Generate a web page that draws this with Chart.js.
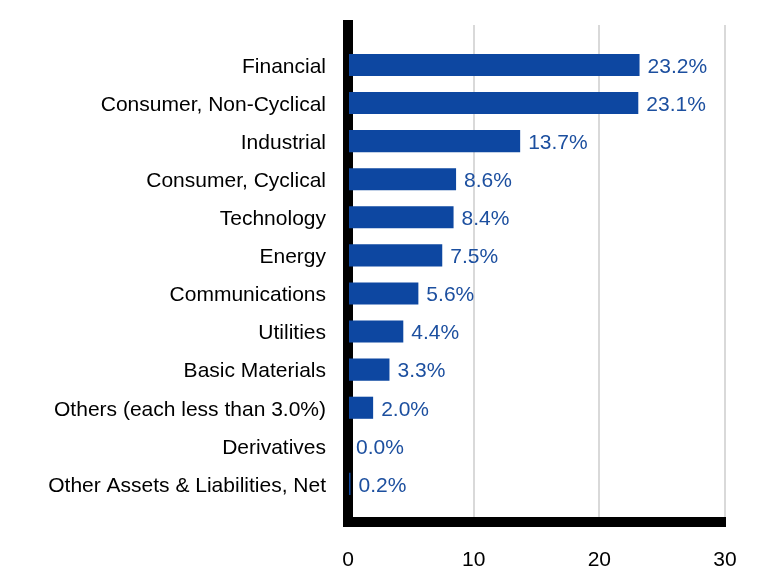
<!DOCTYPE html>
<html>
<head>
<meta charset="utf-8">
<script src="https://cdn.jsdelivr.net/npm/chart.js@4"></script>
<style>
  body { margin: 0; background: #fff; }
  #wrap { width: 780px; height: 588px; }
</style>
</head>
<body>
<div id="wrap"><canvas id="myChart"></canvas></div>
<script>
const categories = [
  'Financial',
  'Consumer, Non-Cyclical',
  'Industrial',
  'Consumer, Cyclical',
  'Technology',
  'Energy',
  'Communications',
  'Utilities',
  'Basic Materials',
  'Others (each less than 3.0%)',
  'Derivatives',
  'Other Assets & Liabilities, Net'
];
const weights = [23.2, 23.1, 13.7, 8.6, 8.4, 7.5, 5.6, 4.4, 3.3, 2.0, 0.0, 0.2];
const xTicks = [0, 10, 20, 30];

const barColor = '#0d47a1';
const labelColor = '#1c4f9f';
const font = { family: 'Liberation Sans, Arial, sans-serif', size: 21 };

// value labels to the right of each bar
const valueLabels = {
  id: 'valueLabels',
  afterDatasetsDraw(chart) {
    const ctx = chart.ctx;
    const meta = chart.getDatasetMeta(0);
    ctx.save();
    ctx.font = `${font.size}px ${font.family}`;
    ctx.fillStyle = labelColor;
    ctx.textAlign = 'left';
    ctx.textBaseline = 'middle';
    meta.data.forEach((bar, i) => {
      ctx.fillText(weights[i].toFixed(1) + '%', bar.x + 8, bar.y + 2);
    });
    ctx.restore();
  }
};

// fill the corner where the two thick axis lines meet
const axisCorner = {
  id: 'axisCorner',
  afterDraw(chart) {
    const { left, bottom } = chart.chartArea;
    const ctx = chart.ctx;
    ctx.save();
    ctx.fillStyle = '#000';
    ctx.fillRect(left - 5, bottom - 5, 10, 10);
    ctx.restore();
  }
};

new Chart(document.getElementById('myChart'), {
  type: 'bar',
  data: {
    datasets: [{
      data: weights.map((v, i) => ({ x: v, y: i })),
      backgroundColor: barColor,
      barPercentage: 0.58,
      categoryPercentage: 1
    }]
  },
  options: {
    indexAxis: 'y',
    responsive: true,
    maintainAspectRatio: false,
    animation: false,
    layout: { padding: { top: 25, right: 55, left: 0, bottom: 0 } },
    plugins: {
      legend: { display: false },
      tooltip: { enabled: false }
    },
    scales: {
      x: {
        type: 'linear',
        min: 0,
        max: 30,
        afterBuildTicks: scale => { scale.ticks = xTicks.map(v => ({ value: v })); },
        afterFit: scale => { scale.height = 66; },
        grid: { color: '#d9d9d9', lineWidth: 2, drawTicks: false },
        border: { display: true, color: '#000', width: 10 },
        ticks: { color: '#000', font: font, padding: 26 }
      },
      y: {
        type: 'linear',
        offset: false,
        reverse: true,
        min: -1.05,
        max: 12.0,
        afterBuildTicks: scale => {
          scale.ticks = scale.ticks.filter(t => Number.isInteger(t.value) && categories[t.value] !== undefined);
        },
        afterFit: scale => {
          scale.width = 348;
          scale.paddingTop = 0;
          scale.paddingBottom = 0;
        },
        grid: { display: false, drawTicks: false, offset: false },
        border: { display: true, color: '#000', width: 10 },
        ticks: {
          stepSize: 1,
          color: '#000',
          font: font,
          padding: 22,
          labelOffset: 2,
          callback: v => categories[v]
        }
      }
    }
  },
  plugins: [valueLabels, axisCorner]
});
</script>
</body>
</html>
